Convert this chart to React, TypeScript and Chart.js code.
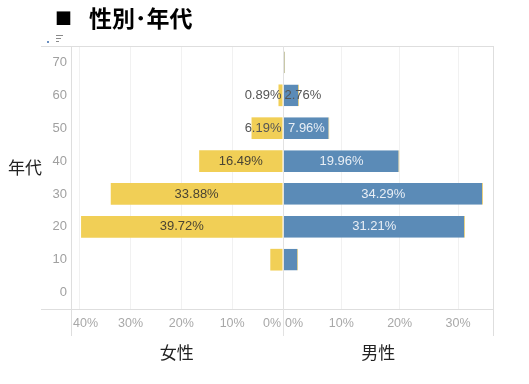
import React, { useEffect, useRef } from 'react';
import { Chart, registerables } from 'chart.js';

Chart.register(...registerables);

// ---- data ----
const ages = ['70', '60', '50', '40', '30', '20', '10', '0'];
const femaleValues = [0, 0.89, 6.19, 16.49, 33.88, 39.72, 2.5, 0];
const maleValues = [0.35, 2.76, 7.96, 19.96, 34.29, 31.21, 2.6, 0];
const labeledAges = ['60', '50', '40', '30', '20'];
const femaleTicks = [0, 10, 20, 30, 40];
const maleTicks = [0, 10, 20, 30];
const femaleAxisMax = 41.7;
const maleAxisMax = 36;

const FONT = '"Liberation Sans", Arial, sans-serif';
const CJK = '"Noto Sans CJK JP", "Noto Sans CJK SC", sans-serif';

const FEMALE_COLOR = '#f1cf56';
const MALE_COLOR = '#5b8bb7';

const decorPlugin = {
  id: 'decor',
  afterDatasetsDraw(chart: any) {
    const ctx: CanvasRenderingContext2D = chart.ctx;
    const { top, bottom, left, right } = chart.chartArea;
    const xF = chart.scales.xF;
    const xM = chart.scales.xM;
    const zero = Math.round(xF.getPixelForValue(0));
    ctx.save();

    // frame lines
    ctx.lineWidth = 1;
    ctx.strokeStyle = '#dedede';
    const lineBottom = 336;
    const hl = (y: number) => {
      ctx.beginPath();
      ctx.moveTo(41, Math.round(y) + 0.5);
      ctx.lineTo(right + 1, Math.round(y) + 0.5);
      ctx.stroke();
    };
    const vl = (x: number) => {
      ctx.beginPath();
      ctx.moveTo(Math.round(x) + 0.5, top);
      ctx.lineTo(Math.round(x) + 0.5, lineBottom);
      ctx.stroke();
    };
    hl(top);
    hl(bottom);
    vl(left);
    vl(right);
    ctx.strokeStyle = '#e2e2e2';
    ctx.beginPath();
    ctx.moveTo(zero + 0.5, top);
    ctx.lineTo(zero + 0.5, lineBottom);
    ctx.stroke();

    // x tick labels
    ctx.font = `12.5px ${FONT}`;
    ctx.fillStyle = '#a8a8a8';
    ctx.textBaseline = 'middle';
    ctx.textAlign = 'left';
    ([[xF, femaleTicks], [xM, maleTicks]] as any[]).forEach(([scale, vals]) => {
      vals.forEach((v: number) => {
        const text = `${v}%`;
        const w = ctx.measureText(text).width;
        const px = scale.getPixelForValue(v);
        let x0 = px - w / 2;
        if (x0 < scale.left + 2) x0 = scale.left + 2;
        if (x0 + w > scale.right - 2) x0 = scale.right - 2 - w;
        ctx.fillText(text, x0, 324);
      });
    });

    // bar labels
    ctx.font = `13px ${FONT}`;
    const sets = [femaleValues, maleValues];
    sets.forEach((values, d) => {
      const meta = chart.getDatasetMeta(d);
      meta.data.forEach((el: any, i: number) => {
        if (!labeledAges.includes(ages[i])) return;
        const text = `${values[i].toFixed(2)}%`;
        const { x, base, y } = el.getProps(['x', 'base', 'y'], true);
        const bw = Math.abs(x - base);
        const w = ctx.measureText(text).width;
        if (w + 6 <= bw) {
          ctx.textAlign = 'center';
          ctx.fillStyle = d === 0 ? '#4a4433' : '#e8eef5';
          ctx.fillText(text, (x + base) / 2, y);
        } else {
          ctx.fillStyle = '#555555';
          if (d === 0) {
            ctx.textAlign = 'right';
            ctx.fillText(text, base - 1, y);
          } else {
            ctx.textAlign = 'left';
            ctx.fillText(text, base + 1, y);
          }
        }
      });
    });

    // small sort icon
    ctx.fillStyle = '#6a8fc0';
    ctx.fillRect(47, 41, 2, 2);
    ctx.fillStyle = '#8a8a8a';
    ctx.fillRect(56, 35, 7, 1);
    ctx.fillRect(56, 38, 5, 1);
    ctx.fillRect(56, 41, 3, 1);

    ctx.restore();
  },
};

export default function App() {
  const ref = useRef<HTMLCanvasElement | null>(null);

  useEffect(() => {
    if (!ref.current) return;
    const chart = new Chart(ref.current, {
      type: 'bar',
      data: {
        labels: ages,
        datasets: [
          {
            label: '女性',
            data: femaleValues,
            xAxisID: 'xF',
            backgroundColor: FEMALE_COLOR,
            grouped: false,
            barPercentage: 0.66,
            categoryPercentage: 1,
          } as any,
          {
            label: '男性',
            data: maleValues,
            xAxisID: 'xM',
            backgroundColor: MALE_COLOR,
            borderColor: '#eed27e',
            borderWidth: { top: 0, bottom: 0, left: 0, right: 1 },
            grouped: false,
            barPercentage: 0.66,
            categoryPercentage: 1,
          } as any,
        ],
      },
      options: {
        indexAxis: 'y',
        responsive: false,
        animation: false,
        devicePixelRatio: 1,
        layout: { padding: { left: 0, right: 36, top: 46, bottom: 75 } },
        plugins: {
          legend: { display: false },
          tooltip: { enabled: false },
          title: { display: false },
        },
        scales: {
          y: {
            type: 'category',
            position: 'left',
            grid: { display: false, drawTicks: false },
            border: { display: false },
            ticks: { color: '#a0a0a0', font: { family: FONT, size: 13 }, padding: 4 },
            afterFit: (s: any) => {
              s.width = 71;
            },
          },
          xF: {
            type: 'linear',
            position: 'bottom',
            stack: 'x',
            stackWeight: 212,
            reverse: true,
            min: 0,
            max: femaleAxisMax,
            grid: { color: '#f1f1f1', drawTicks: false },
            border: { display: false },
            ticks: { display: false },
            afterBuildTicks: (s: any) => {
              s.ticks = femaleTicks.map((v) => ({ value: v }));
            },
            afterFit: (s: any) => {
              s.height = 0;
            },
          },
          xM: {
            type: 'linear',
            position: 'bottom',
            stack: 'x',
            stackWeight: 210,
            min: 0,
            max: maleAxisMax,
            grid: { color: '#f1f1f1', drawTicks: false },
            border: { display: false },
            ticks: { display: false },
            afterBuildTicks: (s: any) => {
              s.ticks = maleTicks.map((v) => ({ value: v }));
            },
            afterFit: (s: any) => {
              s.height = 0;
            },
          },
        } as any,
      },
      plugins: [decorPlugin],
    });
    return () => chart.destroy();
  }, []);

  const abs: React.CSSProperties = { position: 'absolute', whiteSpace: 'nowrap', lineHeight: 1 };

  return (
    <div style={{ position: 'absolute', left: 0, top: 0, width: 529, height: 384, background: '#fff' }}>
      <canvas ref={ref} width={529} height={384} style={{ position: 'absolute', left: 0, top: 0 }} />
      <div style={{ ...abs, left: 55, top: 9, fontFamily: CJK, fontSize: 17, color: '#000' }}>■</div>
      <div style={{ ...abs, left: 89, top: 6, fontFamily: CJK, fontSize: 23, fontWeight: 700, color: '#000' }}>
        性別･年代
      </div>
      <div style={{ ...abs, left: 8, top: 158, fontFamily: CJK, fontSize: 17, color: '#222' }}>年代</div>
      <div style={{ ...abs, left: 176.7, top: 343, transform: 'translateX(-50%)', fontFamily: CJK, fontSize: 17, color: '#222' }}>
        女性
      </div>
      <div style={{ ...abs, left: 378.3, top: 343, transform: 'translateX(-50%)', fontFamily: CJK, fontSize: 17, color: '#222' }}>
        男性
      </div>
    </div>
  );
}
